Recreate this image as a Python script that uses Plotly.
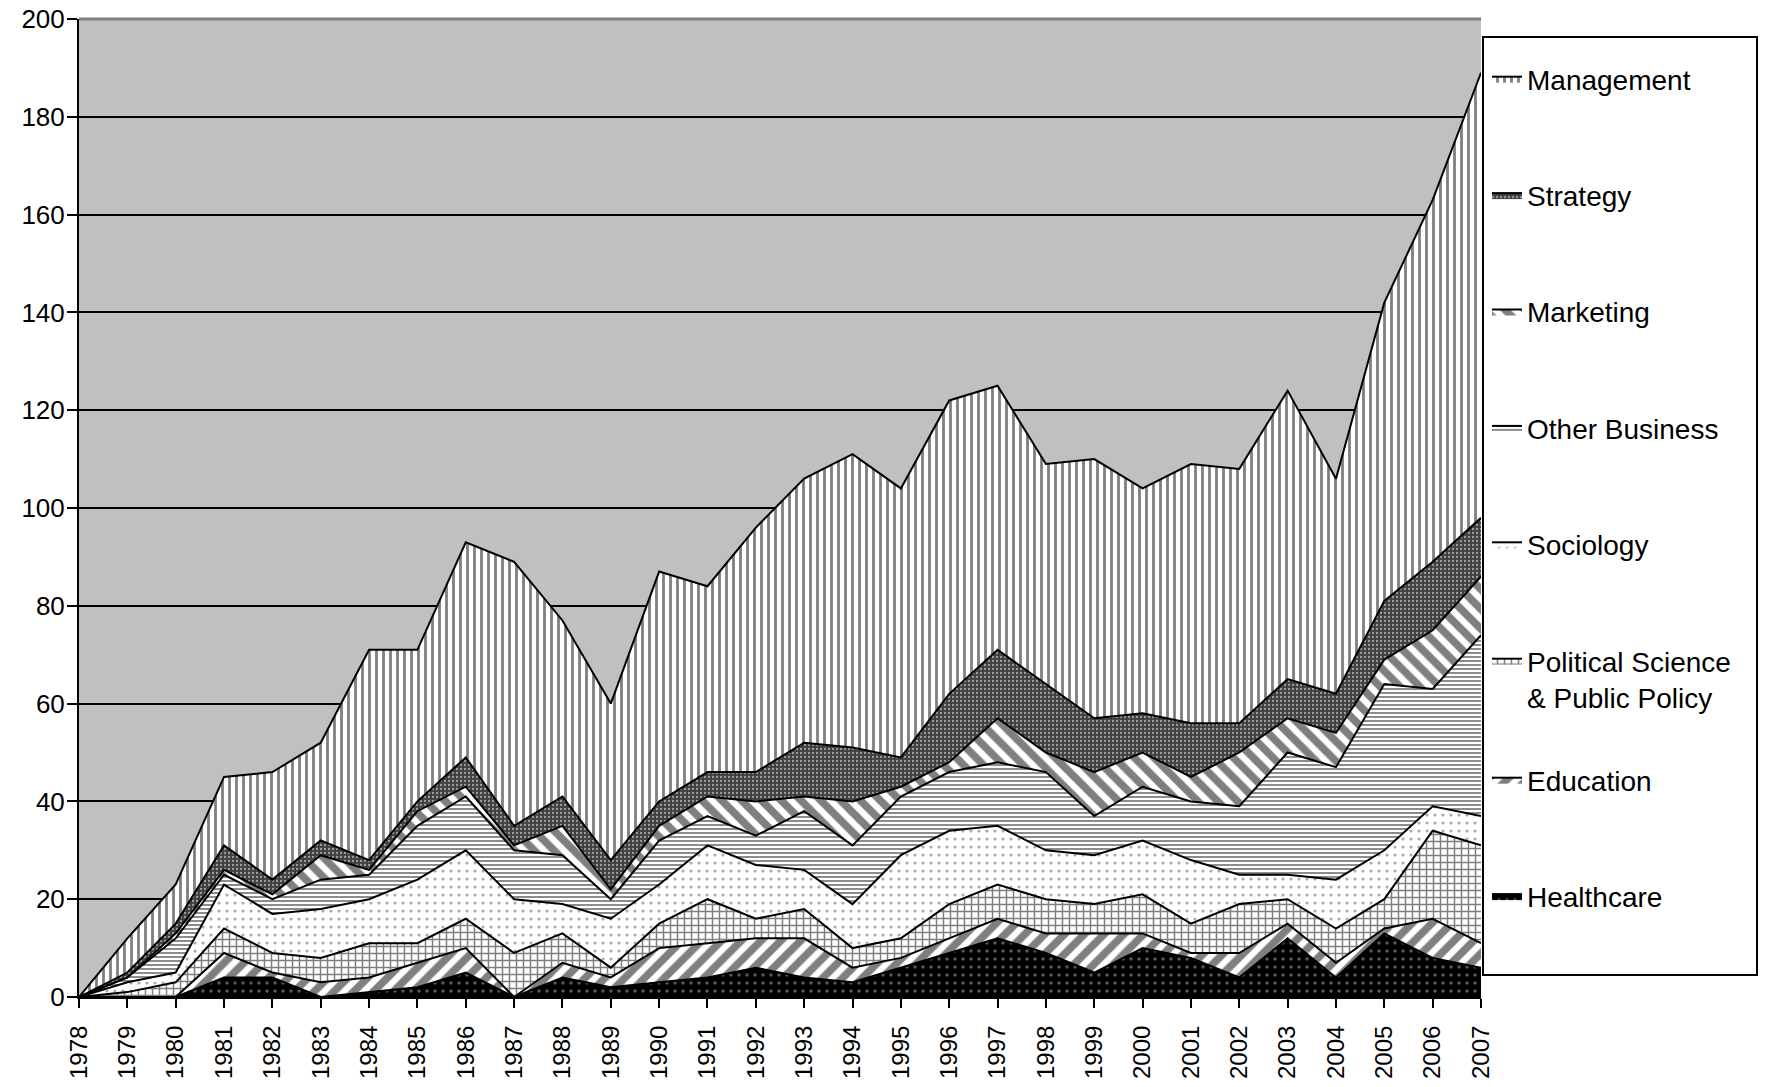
import plotly.graph_objects as go

years = list(range(1978, 2008))
year_labels = [str(y) for y in years]

# Series values (stack order: bottom -> top)
healthcare = [0, 0, 0, 4, 4, 0, 1, 2, 5, 0, 4, 2, 3, 4, 6, 4, 3, 6, 9, 12, 9, 5, 10, 8, 4, 12, 4, 13, 8, 6]
education = [0, 0, 0, 5, 1, 3, 3, 5, 5, 0, 3, 2, 7, 7, 6, 8, 3, 2, 3, 4, 4, 8, 3, 1, 5, 3, 3, 1, 8, 5]
polsci = [0, 1, 3, 5, 4, 5, 7, 4, 6, 9, 6, 2, 5, 9, 4, 6, 4, 4, 7, 7, 7, 6, 8, 6, 10, 5, 7, 6, 18, 20]
sociology = [0, 2, 2, 9, 8, 10, 9, 13, 14, 11, 6, 10, 8, 11, 11, 8, 9, 17, 15, 12, 10, 10, 11, 13, 6, 5, 10, 10, 5, 6]
other_business = [0, 1, 7, 2, 3, 6, 5, 11, 11, 10, 10, 4, 9, 6, 6, 12, 12, 12, 12, 13, 16, 8, 11, 12, 14, 25, 23, 34, 24, 37]
marketing = [0, 0, 1, 1, 1, 5, 1, 3, 2, 1, 6, 2, 3, 4, 7, 3, 9, 2, 2, 9, 4, 9, 7, 5, 11, 7, 7, 5, 12, 12]
strategy = [0, 1, 2, 5, 3, 3, 2, 2, 6, 4, 6, 6, 5, 5, 6, 11, 11, 6, 14, 14, 14, 11, 8, 11, 6, 8, 8, 12, 14, 12]
management = [0, 7, 8, 14, 22, 20, 43, 31, 44, 54, 36, 32, 47, 38, 50, 54, 60, 55, 60, 54, 45, 53, 46, 53, 52, 59, 44, 61, 74, 91]

y_ticks = list(range(0, 201, 20))

FONT = "Arial, Liberation Sans, sans-serif"

# name, values, pattern, legend, legend rank (smaller = higher)
series = [
    ("Healthcare", healthcare, dict(shape=".", bgcolor="black", fgcolor="#b0b0b0", size=8, solidity=0.15), "legend2", 8),
    ("Education", education, dict(shape="/", bgcolor="white", fgcolor="black", size=14, solidity=0.55), "legend2", 7),
    ("Political Science<br>& Public Policy", polsci, dict(shape="+", bgcolor="white", fgcolor="black", size=7, solidity=0.38), "legend", 6),
    ("Sociology", sociology, dict(shape=".", bgcolor="white", fgcolor="#555555", size=8, solidity=0.12), "legend", 5),
    ("Other Business", other_business, dict(shape="-", bgcolor="white", fgcolor="black", size=4, solidity=0.45), "legend", 4),
    ("Marketing", marketing, dict(shape="\\", bgcolor="white", fgcolor="black", size=14, solidity=0.55), "legend", 3),
    ("Strategy", strategy, dict(shape=".", bgcolor="#404040", fgcolor="white", size=4, solidity=0.25), "legend", 2),
    ("Management", management, dict(shape="|", bgcolor="white", fgcolor="black", size=7, solidity=0.4), "legend", 1),
]

fig = go.Figure()
for i, (name, vals, pat, leg, rank) in enumerate(series):
    fig.add_trace(go.Scatter(
        x=years, y=vals, name=name, mode="lines",
        stackgroup="one", fillpattern=pat,
        line=dict(color="black", width=2),
        legendgroup=f"g{i}", legend=leg, legendrank=rank,
        hoverinfo="x+y+name",
    ))

W, H = 1765, 1087
# plot area in page pixels (body margin removed by post_script)
L, R, T, B = 79, 1481, 19, 997


def px_x(xp):
    return (xp - L) / (R - L)


def px_y(yp):
    return (B - yp) / (B - T)


legend_common = dict(
    font=dict(family=FONT, size=28, color="black"),
    bgcolor="rgba(0,0,0,0)", borderwidth=0,
    traceorder="grouped", tracegroupgap=77,
    xanchor="left", yanchor="top", valign="top",
    itemclick=False, itemdoubleclick=False,
)

fig.update_layout(
    width=W, height=H,
    margin=dict(l=L, r=W - R, t=T, b=H - B, autoexpand=False),
    paper_bgcolor="white",
    plot_bgcolor="#c0c0c0",
    font=dict(family=FONT, size=26, color="black"),
    showlegend=True,
    legend=dict(x=px_x(1487), y=px_y(54), **legend_common),
    legend2=dict(x=px_x(1487), y=px_y(755), **legend_common),
    xaxis=dict(
        range=[1978, 2007], tickmode="array", tickvals=years, ticktext=year_labels,
        tickangle=-90, ticks="outside", ticklen=9, tickwidth=2, tickcolor="black",
        showline=True, linecolor="black", linewidth=2, showgrid=False, zeroline=False,
        tickfont=dict(family=FONT, size=24, color="black"), automargin=False,
        ticklabelstandoff=8, ticklabeloverflow="allow",
    ),
    yaxis=dict(
        range=[0, 200], tickmode="array", tickvals=y_ticks,
        ticks="outside", ticklen=10, tickwidth=2, tickcolor="black",
        showline=True, linecolor="black", linewidth=2,
        showgrid=True, gridcolor="black", gridwidth=2, zeroline=False,
        tickfont=dict(family=FONT, size=26, color="black"), automargin=False,
        ticklabelstandoff=-3, ticklabeloverflow="allow",
    ),
    shapes=[
        dict(type="line", xref="x domain", yref="y domain", x0=0, x1=1, y0=1, y1=1,
             line=dict(color="#808080", width=3), layer="above"),
        dict(type="rect", xref="paper", yref="paper",
             x0=px_x(1483), x1=px_x(1757), y0=px_y(975), y1=px_y(37),
             line=dict(color="black", width=2), fillcolor="white", layer="below"),
    ],
)

fig.write_html(
    "out.html",
    config={"displayModeBar": False},
    post_script="document.body.style.margin='0';document.body.style.overflow='hidden';",
)
